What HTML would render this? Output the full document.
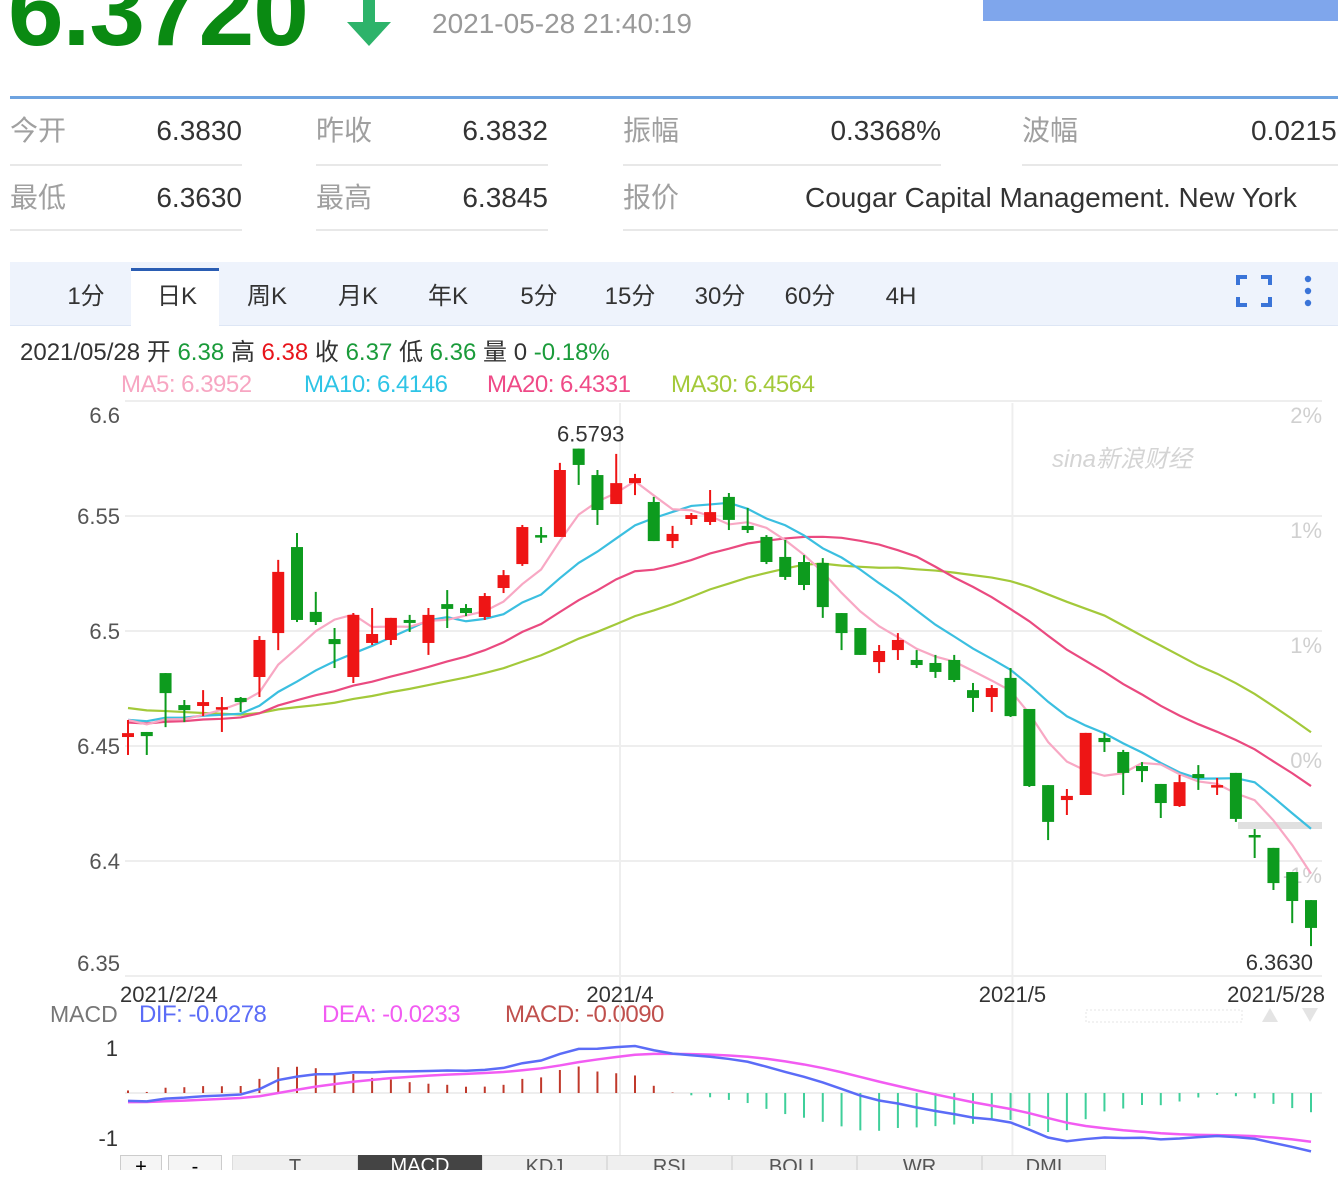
<!DOCTYPE html>
<html><head><meta charset="utf-8">
<style>
*{margin:0;padding:0;box-sizing:border-box}
body{width:1338px;height:1197px;overflow:hidden;background:#fff;font-family:"Liberation Sans","Noto Sans CJK SC",sans-serif;position:relative}
.a{position:absolute;white-space:nowrap}
.lbl{color:#a0a0a0;font-size:28px;line-height:34px}
.val{color:#333;font-size:28px;text-align:right;line-height:34px}
.sep{position:absolute;height:2px;background:#e8e8e8}
.tab{position:absolute;top:281px;font-size:24px;line-height:32px;height:32px;color:#333;transform:translateX(-50%)}
</style></head><body>
<div class="a" style="left:8px;top:-39px;font-size:100px;font-weight:bold;color:#0a8a12;line-height:1;letter-spacing:-1px">6.3720</div>
<svg class="a" style="left:343px;top:0" width="54" height="48"><rect x="20" y="0" width="12" height="26" fill="#2db36a"/><polygon points="4,22 48,22 26,46" fill="#2db36a"/></svg>
<div class="a" style="left:432px;top:8px;font-size:28px;color:#999">2021-05-28 21:40:19</div>
<div class="a" style="left:983px;top:0;width:355px;height:21px;background:#7fa6ec"></div>
<div class="a" style="left:10px;top:96px;width:1328px;height:3px;background:#6ea3e0"></div>

<div class="a lbl" style="left:10px;top:114px">今开</div>
<div class="a val" style="left:100px;width:142px;top:114px">6.3830</div>
<div class="a lbl" style="left:316px;top:114px">昨收</div>
<div class="a val" style="left:400px;width:148px;top:114px">6.3832</div>
<div class="a lbl" style="left:623px;top:114px">振幅</div>
<div class="a val" style="left:700px;width:241px;top:114px">0.3368%</div>
<div class="a lbl" style="left:1022px;top:114px">波幅</div>
<div class="a" style="left:1251px;top:114px;font-size:28px;line-height:34px;color:#333">0.0215</div>
<div class="sep" style="left:10px;top:164px;width:232px"></div><div class="sep" style="left:316px;top:164px;width:232px"></div><div class="sep" style="left:623px;top:164px;width:318px"></div><div class="sep" style="left:1022px;top:164px;width:316px"></div>
<div class="a lbl" style="left:10px;top:181px">最低</div>
<div class="a val" style="left:100px;width:142px;top:181px">6.3630</div>
<div class="a lbl" style="left:316px;top:181px">最高</div>
<div class="a val" style="left:400px;width:148px;top:181px">6.3845</div>
<div class="a lbl" style="left:623px;top:181px">报价</div>
<div class="a" style="left:805px;top:181px;font-size:28px;line-height:34px;color:#333">Cougar Capital Management. New York</div>
<div class="sep" style="left:10px;top:229px;width:232px"></div><div class="sep" style="left:316px;top:229px;width:232px"></div><div class="sep" style="left:623px;top:229px;width:715px"></div>

<div class="a" style="left:10px;top:262px;width:1328px;height:64px;background:#eef3fc;border-bottom:1px solid #dde6f5"></div>
<div class="a" style="left:131px;top:268px;width:88px;height:58px;background:#fff;border-top:3px solid #2a5db3"></div>
<div class="tab" style="left:86px">1分</div>
<div class="tab" style="left:177px">日K</div>
<div class="tab" style="left:267px">周K</div>
<div class="tab" style="left:358px">月K</div>
<div class="tab" style="left:448px">年K</div>
<div class="tab" style="left:539px">5分</div>
<div class="tab" style="left:630px">15分</div>
<div class="tab" style="left:720px">30分</div>
<div class="tab" style="left:810px">60分</div>
<div class="tab" style="left:901px">4H</div>
<svg class="a" style="left:1236px;top:274px" width="36" height="34"><path d="M2,11V3H11M25,3H34V11M34,23V31H25M11,31H2V23" fill="none" stroke="#3a74d8" stroke-width="4"/></svg>
<svg class="a" style="left:1302px;top:274px" width="12" height="34"><circle cx="6" cy="5" r="3.2" fill="#3a74d8"/><circle cx="6" cy="17" r="3.2" fill="#3a74d8"/><circle cx="6" cy="29" r="3.2" fill="#3a74d8"/></svg>

<div class="a" style="left:20px;top:337px;font-size:24px;line-height:32px;color:#333">2021/05/28 开 <span style="color:#1a9b3a">6.38</span> 高 <span style="color:#e8141b">6.38</span> 收 <span style="color:#1a9b3a">6.37</span> 低 <span style="color:#1a9b3a">6.36</span> 量 0 <span style="color:#1a9b3a">-0.18%</span></div>
<div class="a" style="left:121px;top:371px;font-size:24px;color:#f7a6c2;letter-spacing:-0.5px">MA5: 6.3952</div>
<div class="a" style="left:304px;top:371px;font-size:24px;color:#2ec4e6;letter-spacing:-0.5px">MA10: 6.4146</div>
<div class="a" style="left:487px;top:371px;font-size:24px;color:#ef4a87;letter-spacing:-0.5px">MA20: 6.4331</div>
<div class="a" style="left:671px;top:371px;font-size:24px;color:#a3c93a;letter-spacing:-0.5px">MA30: 6.4564</div>

<div class="a" style="left:50px;top:1001px;font-size:23px;color:#777">MACD</div>
<div class="a" style="left:139px;top:1001px;font-size:24px;color:#5b6cf7;letter-spacing:-0.5px">DIF: -0.0278</div>
<div class="a" style="left:322px;top:1001px;font-size:24px;color:#f25cf2;letter-spacing:-0.5px">DEA: -0.0233</div>
<div class="a" style="left:505px;top:1001px;font-size:24px;color:#c0504d;letter-spacing:-0.5px">MACD: -0.0090</div>

<svg id="chart" class="a" style="left:0;top:0" width="1338" height="1170"></svg>

<div class="a" style="left:0;top:1155px;width:1338px;height:15px;overflow:hidden">
<div class="a" style="left:120px;top:0;width:42px;height:30px;border:1px solid #ccc;background:#f5f5f5;text-align:center;font-size:20px">+</div>
<div class="a" style="left:168px;top:0;width:54px;height:30px;border:1px solid #ccc;background:#f5f5f5;text-align:center;font-size:20px">-</div>
<div class="a" style="left:232px;top:0;width:126px;height:30px;background:#efefef;border:1px solid #ddd;text-align:center;font-size:20px;color:#555">T</div>
<div class="a" style="left:358px;top:0;width:124px;height:30px;background:#444;text-align:center;font-size:20px;color:#fff">MACD</div>
<div class="a" style="left:482px;top:0;width:125px;height:30px;background:#efefef;border:1px solid #ddd;text-align:center;font-size:20px;color:#555">KDJ</div>
<div class="a" style="left:607px;top:0;width:125px;height:30px;background:#efefef;border:1px solid #ddd;text-align:center;font-size:20px;color:#555">RSI</div>
<div class="a" style="left:732px;top:0;width:125px;height:30px;background:#efefef;border:1px solid #ddd;text-align:center;font-size:20px;color:#555">BOLL</div>
<div class="a" style="left:857px;top:0;width:125px;height:30px;background:#efefef;border:1px solid #ddd;text-align:center;font-size:20px;color:#555">WR</div>
<div class="a" style="left:982px;top:0;width:124px;height:30px;background:#efefef;border:1px solid #ddd;text-align:center;font-size:20px;color:#555">DMI</div>
</div>

<script>
const opens=[6.4539,6.4561,6.4817,6.4678,6.4674,6.4665,6.4709,6.4800,6.4991,6.5365,6.5083,6.4965,6.4800,6.4948,6.4961,6.5048,6.4948,6.5117,6.5100,6.5061,6.5187,6.5291,6.5417,6.5409,6.5793,6.5678,6.5552,6.5643,6.5561,6.5391,6.5487,6.5474,6.5583,6.5457,6.5409,6.5322,6.5300,6.5296,6.5078,6.5013,6.4865,6.4917,6.4874,6.4861,6.4874,6.4743,6.4713,6.4796,6.4661,6.4330,6.4265,6.4287,6.4535,6.4474,6.4413,6.4335,6.4239,6.4378,6.4326,6.4383,6.4113,6.4057,6.3952,6.3830];
const closes=[6.4556,6.4543,6.4730,6.4656,6.4691,6.4669,6.4691,6.4961,6.5257,6.5048,6.5039,6.4943,6.5070,6.4987,6.5057,6.5035,6.5070,6.5096,6.5078,6.5152,6.5243,6.5452,6.5413,6.5700,6.5722,6.5526,6.5643,6.5665,6.5391,6.5422,6.5504,6.5517,6.5483,6.5439,6.5300,6.5235,6.5200,6.5104,6.4991,6.4896,6.4913,6.4961,6.4852,6.4822,6.4787,6.4709,6.4752,6.4630,6.4326,6.4170,6.4283,6.4557,6.4517,6.4383,6.4391,6.4252,6.4343,6.4361,6.4330,6.4183,6.4104,6.3904,6.3826,6.3709];
const highs=[6.4613,6.4561,6.4817,6.4700,6.4743,6.4713,6.4713,6.4978,6.5309,6.5426,6.5170,6.5013,6.5078,6.5100,6.5057,6.5070,6.5100,6.5178,6.5117,6.5165,6.5265,6.5461,6.5452,6.5731,6.5793,6.5700,6.5770,6.5683,6.5583,6.5457,6.5513,6.5613,6.5600,6.5535,6.5417,6.5396,6.5330,6.5317,6.5078,6.5013,6.4939,6.4991,6.4917,6.4896,6.4896,6.4774,6.4765,6.4839,6.4661,6.4330,6.4313,6.4557,6.4557,6.4483,6.4430,6.4335,6.4374,6.4417,6.4361,6.4383,6.4139,6.4057,6.3952,6.3830];
const lows=[6.4461,6.4461,6.4582,6.4604,6.4630,6.4561,6.4648,6.4713,6.4917,6.5039,6.5026,6.4839,6.4774,6.4939,6.4939,6.4996,6.4896,6.5013,6.5065,6.5048,6.5165,6.5283,6.5383,6.5409,6.5635,6.5461,6.5552,6.5591,6.5391,6.5361,6.5461,6.5461,6.5439,6.5426,6.5291,6.5222,6.5178,6.5057,6.4917,6.4896,6.4817,6.4874,6.4839,6.4796,6.4778,6.4648,6.4648,6.4626,6.4322,6.4091,6.4200,6.4287,6.4474,6.4287,6.4343,6.4187,6.4235,6.4309,6.4287,6.4170,6.4013,6.3874,6.3730,6.3630];
// estimated closes before the visible window (oldest first), used only for moving averages
const priorCloses=[6.4850,6.4820,6.4790,6.4810,6.4770,6.4800,6.4760,6.4780,6.4750,6.4790,6.4620,6.4580,6.4600,6.4550,6.4610,6.4570,6.4600,6.4580,6.4590,6.4600,6.4600,6.4580,6.4650,6.4610,6.4630,6.4640,6.4620,6.4650,6.4600];
const yTicks=[6.6,6.55,6.5,6.45,6.4,6.35];
const yTickLabels=["6.6","6.55","6.5","6.45","6.4","6.35"];
const pctLabels=["2%","1%","1%","0%","-1%",""];
const xLabels=[{i:0,t:"2021/2/24"},{i:26.2,t:"2021/4"},{i:47.1,t:"2021/5"},{i:63,t:"2021/5/28"}];

const svg=document.getElementById('chart');
const NS='http://www.w3.org/2000/svg';
const N=closes.length;
const x0=128,x1=1311;
function xs(i){return x0+(x1-x0)*i/(N-1);}
function ys(v){return 631-(v-6.5)*2300;}
function mk(tag,attrs,parent){const e=document.createElementNS(NS,tag);for(const k in attrs)e.setAttribute(k,attrs[k]);(parent||svg).appendChild(e);return e;}

yTicks.forEach((v,k)=>{
  const g=mk('line',{x1:125,x2:1322,y1:ys(v),y2:ys(v),stroke:'#eeeeee','stroke-width':2});
  
  
  let ly=ys(v)+8; if(k===0) ly=ys(v)+22; if(k===yTicks.length-1) ly=ys(v)-5;
  const t=mk('text',{x:120,y:ly,'text-anchor':'end','font-size':22,fill:'#555','font-family':'Liberation Sans'});
  t.textContent=yTickLabels[k];
  
  
  const p=mk('text',{x:1322,y:ys(v)+22,'text-anchor':'end','font-size':22,fill:'#d0d0d0','font-family':'Liberation Sans'});
  p.textContent=pctLabels[k];
  
  
});
[26.2,47.1].forEach(i=>{
  const l=mk('line',{x1:xs(i),x2:xs(i),y1:403,y2:1165,stroke:'#eeeeee','stroke-width':2});
  
  
});
const wm=mk('text',{x:1052,y:467,'font-size':24,fill:'#d4d4d4','font-style':'italic','font-family':'Liberation Sans, Noto Sans CJK SC, sans-serif'});
wm.textContent='sina新浪财经';


const pm=mk('rect',{x:1238,y:822,width:84,height:7,fill:'#e0e0e0'});



const all=priorCloses.concat(closes);const P=priorCloses.length;
function ma(n){const r=[];for(let i=0;i<N;i++){let s=0;for(let j=0;j<n;j++)s+=all[P+i-j];r.push(s/n);}return r;}
[[30,'#a3c93a'],[20,'#ea4a80'],[10,'#3bbfe0'],[5,'#f8a8c4']].forEach(([n,c])=>{
  const m=ma(n);
  const pl=mk('polyline',{points:m.map((v,i)=>xs(i)+','+ys(v)).join(' '),fill:'none',stroke:c,'stroke-width':2.2});
  
  
});
for(let i=0;i<N;i++){
  const up=closes[i]>=opens[i];const c=up?'#ee1515':'#0d9b1e';
  const g=mk('g',{});
  
  
  mk('line',{x1:xs(i),x2:xs(i),y1:ys(highs[i]),y2:ys(lows[i]),stroke:c,'stroke-width':2},g);
  const top=ys(Math.max(opens[i],closes[i])),bot=ys(Math.min(opens[i],closes[i]));
  mk('rect',{x:xs(i)-6,y:top,width:12,height:Math.max(bot-top,2.5),fill:c},g);
}
let hi=0,lo=0;for(let i=0;i<N;i++){if(highs[i]>highs[hi])hi=i;if(lows[i]<lows[lo])lo=i;}
const th=mk('text',{x:xs(hi)+12,y:ys(highs[hi])-7,'text-anchor':'middle','font-size':22,fill:'#333','font-family':'Liberation Sans'});
th.textContent=highs[hi].toFixed(4);


const tl=mk('text',{x:xs(lo)+2,y:ys(lows[lo])+24,'text-anchor':'end','font-size':22,fill:'#333','font-family':'Liberation Sans'});
tl.textContent=lows[lo].toFixed(4);


xLabels.forEach(o=>{
  let anchor='middle',x=xs(o.i);
  if(o.i===0){anchor='start';x=120;} if(o.i===N-1){anchor='end';x=1325;}
  const t=mk('text',{x:x,y:1002,'text-anchor':anchor,'font-size':22,fill:'#333','font-family':'Liberation Sans'});
  t.textContent=o.t;
  
  
});
const dl=mk('rect',{x:1086,y:1010,width:156,height:12,fill:'none',stroke:'#e6e6e6','stroke-dasharray':'2,2'});


const ua=mk('polygon',{points:'1262,1022 1278,1022 1270,1008',fill:'#e4e4e4'});


const da=mk('polygon',{points:'1302,1008 1318,1008 1310,1022',fill:'#e4e4e4'});



function ema(arr,n){const k=2/(n+1);const r=[arr[0]];for(let i=1;i<arr.length;i++)r.push(arr[i]*k+r[i-1]*(1-k));return r;}
const e12=ema(all,12),e26=ema(all,26);
const difAll=e12.map((v,i)=>v-e26[i]);const deaAll=ema(difAll,9);
const dif=difAll.slice(P),dea=deaAll.slice(P);const hist=dif.map((v,i)=>2*(v-dea[i]));
let mx=-1,mn=1;dif.concat(dea).forEach(v=>{if(v>mx)mx=v;if(v<mn)mn=v;});
const zeroY=1093;const sc=Math.min((zeroY-1046)/Math.max(mx,1e-6),(1154-zeroY)/Math.max(-mn,1e-6));
function ym(v){return zeroY-v*sc;}
const zl=mk('line',{x1:125,x2:1322,y1:zeroY,y2:zeroY,stroke:'#eeeeee','stroke-width':2});


const tl1=mk('text',{x:118,y:1056,'text-anchor':'end','font-size':22,fill:'#333','font-family':'Liberation Sans'});tl1.textContent='1';


const tl2=mk('text',{x:118,y:1146,'text-anchor':'end','font-size':22,fill:'#333','font-family':'Liberation Sans'});tl2.textContent='-1';


hist.forEach((v,i)=>{
  const b=mk('line',{x1:xs(i),x2:xs(i),y1:zeroY,y2:ym(v),stroke:v>=0?'#c0392b':'#3fcf9a','stroke-width':2});
  
  
});
const pd=mk('polyline',{points:dea.map((v,i)=>xs(i)+','+ym(v)).join(' '),fill:'none',stroke:'#f25cf2','stroke-width':2.5});


const pf=mk('polyline',{points:dif.map((v,i)=>xs(i)+','+ym(v)).join(' '),fill:'none',stroke:'#5b6cf7','stroke-width':2.5});


</script>
</body></html>
